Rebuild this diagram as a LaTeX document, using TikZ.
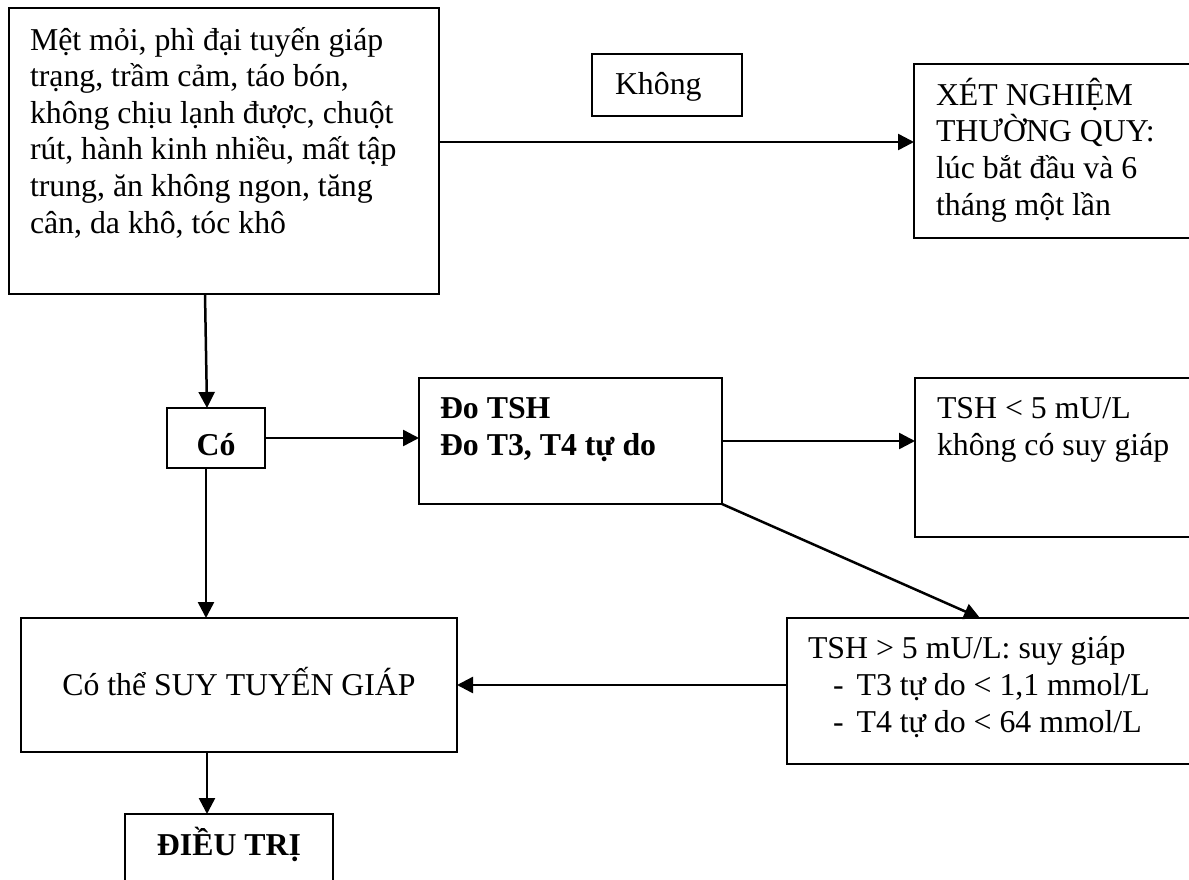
\documentclass[tikz,border=0pt]{standalone}
\usepackage{fontspec}
\setmainfont{Liberation Serif}
\usetikzlibrary{arrows.meta,calc}
\begin{document}
\begin{tikzpicture}[x=1pt,y=-1pt,
  box/.style={draw,line width=2.5pt,rectangle,inner sep=0pt,outer sep=0pt,anchor=north west},
  txt/.style={inner sep=0pt,outer sep=0pt,font=\fontsize{31.8pt}{36.6pt}\selectfont,align=left},
  btxt/.style={txt,font=\fontsize{31.8pt}{36.6pt}\selectfont\bfseries},
  conn/.style={line width=2.5pt,-{Triangle[length=16pt,width=16pt]}}]
\useasboundingbox (0,0) rectangle (1189,879);
\clip (0,0) rectangle (1189,879);

% boxes
\node[box,minimum width=430pt,minimum height=286pt] (sym) at (9,8) {};
\node[box,minimum width=150pt,minimum height=62pt] (khong) at (592,54) {};
\node[box,minimum width=300pt,minimum height=174pt] (xet) at (914,64) {};
\node[box,minimum width=98pt,minimum height=60pt] (co) at (167,408) {};
\node[box,minimum width=303pt,minimum height=126pt] (do) at (419,378) {};
\node[box,minimum width=300pt,minimum height=159pt] (tlow) at (915,378) {};
\node[box,minimum width=420pt,minimum height=146pt] (thigh) at (787,618) {};
\node[box,minimum width=436pt,minimum height=134pt] (cothe) at (21,618) {};
\node[box,minimum width=208pt,minimum height=100pt] (dieutri) at (125,814) {};

% texts (multi-line nodes are placed by the baseline of their last line)
\node[txt,anchor=base west] (symt) at (30,233) {Mệt mỏi, phì đại tuyến giáp\\trạng, trầm cảm, táo bón,\\không chịu lạnh được, chuột\\rút, hành kinh nhiều, mất tập\\trung, ăn không ngon, tăng\\cân, da khô, tóc khô};
\node[txt,anchor=base west] (khongt) at (615,94) {Không};
\node[txt,anchor=base west] (xett) at (936,215) {XÉT NGHIỆM\\THƯỜNG QUY:\\lúc bắt đầu và 6\\tháng một lần};
\node[btxt,anchor=base] (cot) at (216,455) {Có};
\node[btxt,anchor=base west] (dot) at (440,455) {Đo TSH\\Đo T3, T4 tự do};
\node[txt,anchor=base west] (tlowt) at (937,455) {TSH < 5 mU/L\\không có suy giáp};
\node[txt,anchor=base west] (thight) at (808,732) {TSH > 5 mU/L: suy giáp\\\hspace*{25pt}-\hspace*{13pt}T3 tự do < 1,1 mmol/L\\\hspace*{25pt}-\hspace*{13pt}T4 tự do < 64 mmol/L};
\node[txt,anchor=base] (cothet) at (239,695) {Có thể SUY TUYẾN GIÁP};
\node[btxt,anchor=base] (dieutrit) at (229,855) {ĐIỀU TRỊ};

% connectors
\draw[conn] ([yshift=9pt]sym.east) -- ([yshift=9pt]xet.west);
\draw[conn] ([xshift=-19pt]sym.south) -- ([xshift=-9pt]co.north);
\draw[conn] (co.east) -- (co.east -| do.west);
\draw[conn] (do.east) -- (do.east -| tlow.west);
\draw[conn] (do.south east) -- ($(thigh.north west)+(193,0)$);
\draw[conn] ([xshift=-10pt]co.south) -- ([xshift=-10pt]co.south |- cothe.north);
\draw[conn] (thigh.west |- cothe.east) -- (cothe.east);
\draw[conn] ([xshift=-32pt]cothe.south) -- ([xshift=-32pt]cothe.south |- dieutri.north);
\end{tikzpicture}
\end{document}
